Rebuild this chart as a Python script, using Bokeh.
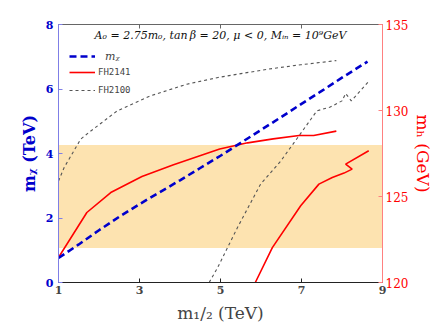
from bokeh.plotting import figure
from bokeh.models import Range1d, LinearAxis, Legend, LegendItem, Label, FixedTicker
from bokeh.embed import file_html
from bokeh.resources import INLINE

# ---------------- data ----------------
# m_chi (TeV) vs m_1/2 (TeV), left axis
mchi_x = [1.0, 1.5, 2.0, 2.5, 3.0, 3.5, 4.0, 4.5, 5.0, 5.5, 6.0, 6.5, 7.0, 7.5, 8.0, 8.63]
mchi_y = [0.76, 1.18, 1.62, 2.04, 2.43, 2.80, 3.17, 3.55, 3.93, 4.33, 4.73, 5.13, 5.54, 5.94, 6.35, 6.85]

# FH2141 m_h (GeV), right axis: two branches
fh2141_a_x = [1.0, 1.70, 2.29, 3.06, 3.84, 4.98, 5.67, 6.30, 6.94, 7.30, 7.86]
fh2141_a_y = [121.45, 124.07, 125.23, 126.16, 126.84, 127.76, 128.12, 128.35, 128.55, 128.55, 128.80]
fh2141_b_x = [5.86, 6.28, 6.98, 7.43, 7.76, 8.05, 8.25, 8.09, 8.66]
fh2141_b_y = [120.0, 122.03, 124.46, 125.72, 126.10, 126.36, 126.59, 126.88, 127.66]

# FH2100 m_h (GeV), right axis: two branches
fh2100_a_x = [1.0, 1.14, 1.55, 1.75, 2.45, 3.27, 4.17, 4.94, 6.16, 6.98, 7.86]
fh2100_a_y = [125.9, 126.69, 128.34, 128.72, 129.98, 130.85, 131.53, 131.92, 132.40, 132.66, 132.90]
fh2100_b_x = [4.72, 4.93, 5.42, 5.99, 6.49, 6.85, 7.38, 7.71, 8.0, 8.09, 8.23, 8.66]
fh2100_b_y = [120.0, 120.87, 123.2, 125.72, 127.07, 128.24, 129.98, 130.2, 130.56, 130.99, 130.56, 131.69]

# Higgs mass band (GeV)
band_x = [1, 9]
band_low = [122, 122]
band_high = [128, 128]

x_ticks = [1, 3, 5, 7, 9]
y_ticks = [0, 2, 4, 6, 8]
mh_ticks = [120, 125, 130, 135]

title_text = "A\u2080 = 2.75m\u2080, tan\u2009\u03b2 = 20, \u03bc < 0, M\u1d62\u2099 = 10\u2079GeV"

# ---------------- figure ----------------
BLUE = "#0000CC"
RED = "#FF0000"
SERIF = "DejaVu Serif"

p = figure(width=436, height=327, x_range=Range1d(1, 9), y_range=Range1d(0, 8),
           output_backend="svg", toolbar_location=None,
           min_border_left=58, min_border_right=52, min_border_top=24, min_border_bottom=45)
p.extra_y_ranges = {"mh": Range1d(120, 135)}
p.outline_line_color = None
p.xgrid.visible = False
p.ygrid.visible = False
p.background_fill_color = "white"

# band
p.varea(x=band_x, y1=band_low, y2=band_high, y_range_name="mh", fill_color="#FDE3B0")

# lines
r_fh2100a = p.line(fh2100_a_x, fh2100_a_y, y_range_name="mh", line_color="#555555",
                   line_width=1.1, line_dash="3 3")
p.line(fh2100_b_x, fh2100_b_y, y_range_name="mh", line_color="#555555",
       line_width=1.1, line_dash="3 3")
r_fh2141a = p.line(fh2141_a_x, fh2141_a_y, y_range_name="mh", line_color=RED, line_width=1.6)
p.line(fh2141_b_x, fh2141_b_y, y_range_name="mh", line_color=RED, line_width=1.6)
r_mchi = p.line(mchi_x, mchi_y, line_color=BLUE, line_width=2.6, line_dash="7 4")

# bottom axis
xa = p.xaxis[0]
xa.ticker = FixedTicker(ticks=x_ticks)
xa.axis_label = "m\u2081/\u2082 (TeV)"
xa.axis_label_text_font = SERIF
xa.axis_label_text_font_style = "normal"
xa.axis_label_text_font_size = "17px"
xa.axis_label_standoff = 6
xa.major_label_text_font = SERIF
xa.major_label_text_font_style = "bold"
xa.major_label_text_font_size = "11px"
xa.major_label_standoff = 3
xa.major_tick_in = 4
xa.major_tick_out = 0
xa.minor_tick_line_color = None
xa.axis_line_color = "#222222"
xa.major_tick_line_color = "#222222"

# left axis
ya = p.yaxis[0]
ya.ticker = FixedTicker(ticks=y_ticks)
ya.axis_label = "m\u1d6a (TeV)"
ya.axis_label_text_font = SERIF
ya.axis_label_text_font_style = "bold"
ya.axis_label_text_font_size = "16px"
ya.axis_label_text_color = BLUE
ya.axis_label_standoff = 4
ya.major_label_text_font = SERIF
ya.major_label_text_font_style = "bold"
ya.major_label_text_font_size = "11px"
ya.major_label_text_color = BLUE
ya.major_label_standoff = 5
ya.major_tick_in = 4
ya.major_tick_out = 0
ya.minor_tick_line_color = None
ya.axis_line_color = "#7F7FE6"
ya.major_tick_line_color = "#7F7FE6"

# right axis
ra = LinearAxis(y_range_name="mh", ticker=FixedTicker(ticks=mh_ticks))
ra.axis_label = "m\u2095 (GeV)"
ra.axis_label_text_font = SERIF
ra.axis_label_text_font_style = "normal"
ra.axis_label_text_font_size = "17px"
ra.axis_label_text_color = RED
ra.axis_label_standoff = 2
ra.major_label_text_font = SERIF
ra.major_label_text_font_size = "12px"
ra.major_label_text_color = RED
ra.major_label_standoff = 3
ra.major_tick_in = 4
ra.major_tick_out = 0
ra.minor_tick_line_color = None
ra.axis_line_color = "#FF8080"
ra.major_tick_line_color = "#FF8080"
p.add_layout(ra, "right")

# top axis (ticks only)
ta = LinearAxis(ticker=FixedTicker(ticks=x_ticks))
ta.major_label_text_color = None
ta.major_label_text_font_size = "1px"
ta.major_label_standoff = 0
ta.major_tick_in = 4
ta.major_tick_out = 0
ta.minor_tick_line_color = None
ta.axis_line_color = "#666666"
ta.major_tick_line_color = "#666666"
p.add_layout(ta, "above")

# title annotation inside the plot
p.add_layout(Label(x=5, y=7.66, text=title_text, text_align="center", text_baseline="middle",
                   text_font=SERIF, text_font_style="italic", text_font_size="11px",
                   text_color="#111111"))

# legends
leg1 = Legend(items=[LegendItem(label="m\u1d6a", renderers=[r_mchi])],
              location=(11, 218), padding=0, margin=0, label_standoff=10,
              glyph_width=26, label_height=16, glyph_height=16,
              label_text_font=SERIF, label_text_font_style="italic", label_text_font_size="11px",
              background_fill_alpha=0, border_line_color=None)
leg2 = Legend(items=[LegendItem(label="FH2141", renderers=[r_fh2141a]),
                     LegendItem(label="FH2100", renderers=[r_fh2100a])],
              location=(11, 184), padding=0, margin=0, label_standoff=3, spacing=2,
              glyph_width=26, label_height=16, glyph_height=16,
              label_text_font="DejaVu Sans Mono", label_text_font_size="9px",
              background_fill_alpha=0, border_line_color=None)
p.add_layout(leg1, "center")
p.add_layout(leg2, "center")

open("out.html", "w").write(file_html(p, INLINE))
